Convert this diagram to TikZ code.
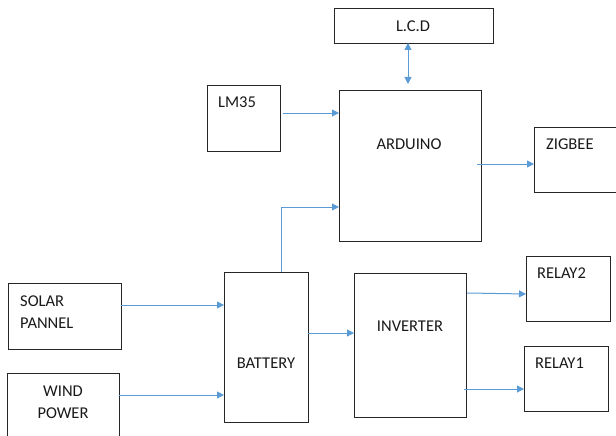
\documentclass[tikz,border=0pt]{standalone}
\usepackage{fontspec}
\setmainfont{Carlito}
\usetikzlibrary{arrows.meta}
\definecolor{arrowblue}{HTML}{5B9BD5}
\begin{document}
\begin{tikzpicture}[x=1pt,y=-1pt,
  box/.style={draw=black!85, line width=0.9pt, inner sep=0pt, outer sep=0pt, anchor=north west},
  lbl/.style={inner sep=0pt, font=\fontsize{16.5}{22}\selectfont, text=black!90},
  arr/.style={draw=arrowblue, line width=1pt, -{Triangle[length=7pt,width=7pt]}},
  darr/.style={draw=arrowblue, line width=1pt, {Triangle[length=7pt,width=7pt]}-{Triangle[length=7pt,width=7pt]}}
]
\useasboundingbox (0,0) rectangle (616,436);
\clip (0,0) rectangle (616,436);
% boxes
\node[box, minimum width=113pt, minimum height=66pt] (solar) at (8,283) {};
\node[box, minimum width=112pt, minimum height=90pt] (wind) at (7,373) {};
\node[box, minimum width=84pt, minimum height=150pt] (battery) at (224,272) {};
\node[box, minimum width=73pt, minimum height=66pt] (lm35) at (207,85) {};
\node[box, minimum width=142pt, minimum height=151pt] (arduino) at (339,90) {};
\node[box, minimum width=159pt, minimum height=35pt] (lcd) at (334,8) {};
\node[box, minimum width=100pt, minimum height=65pt] (zigbee) at (534,127) {};
\node[box, minimum width=112pt, minimum height=144pt] (inverter) at (354,273) {};
\node[box, minimum width=84pt, minimum height=65pt] (relay2) at (526,256) {};
\node[box, minimum width=84pt, minimum height=65pt] (relay1) at (524,346) {};
% labels
\node[lbl, anchor=west, align=left] (tsolar) at (20,312) {SOLAR\\PANNEL};
\node[lbl, align=center] (twind) at (63,402) {WIND\\POWER};
\node[lbl] (tbattery) at (266,363) {BATTERY};
\node[lbl, anchor=west] (tlm35) at (218,102) {LM35};
\node[lbl] (tarduino) at (409,144) {ARDUINO};
\node[lbl, anchor=west] (tzigbee) at (546,144) {ZIGBEE};
\node[lbl] (tlcd) at (413,26) {L.C.D};
\node[lbl] (tinverter) at (410,326) {INVERTER};
\node[lbl, anchor=west] (trelay2) at (537,273) {RELAY2};
\node[lbl, anchor=west] (trelay1) at (535,363) {RELAY1};
% connectors
\draw[arr] (solar.east |- 0,305) -- (battery.west |- 0,305);
\draw[arr] (wind.east |- 0,395) -- (battery.west |- 0,395);
\draw[arr] (battery.east |- 0,333) -- (inverter.west |- 0,333);
\draw[arr] (battery.north -| 281,0) -- (281,207) -- (arduino.west |- 0,207);
\draw[arr] ([xshift=3pt]lm35.east |- 0,113) -- (arduino.west |- 0,113);
\draw[darr, shorten >=6pt] (lcd.south -| 408,0) -- (arduino.north -| 408,0);
\draw[arr] ([xshift=-4pt]arduino.east |- 0,164) -- (zigbee.west |- 0,164);
\draw[arr] ([xshift=1pt]inverter.east |- 0,293) -- (relay2.west |- 0,294);
\draw[arr] ([xshift=-2pt]inverter.east |- 0,389) -- (relay1.west |- 0,389);
\end{tikzpicture}
\end{document}
